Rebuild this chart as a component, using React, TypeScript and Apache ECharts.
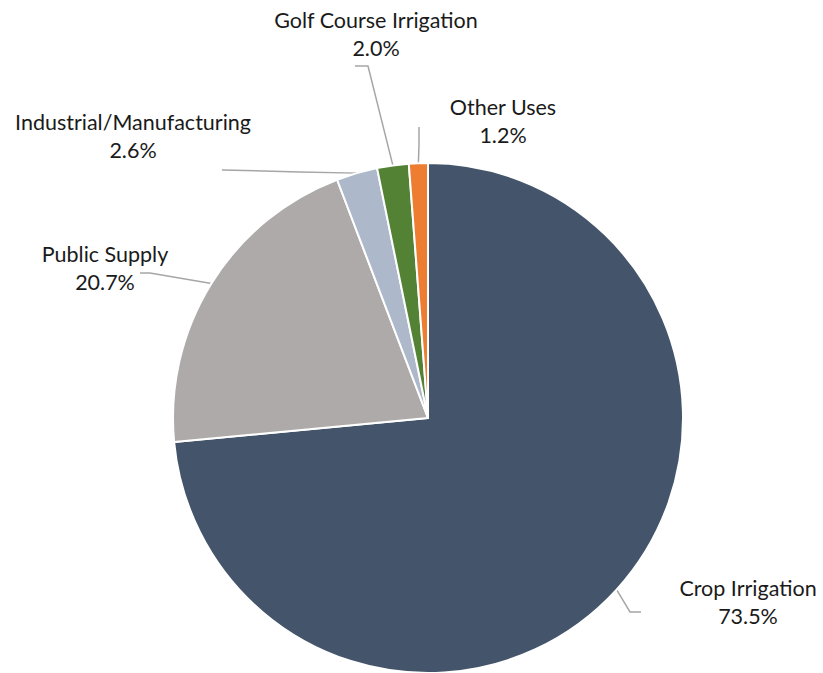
import React, { useEffect, useRef } from "react";
import * as echarts from "echarts";

const categories = ["Crop Irrigation", "Public Supply", "Industrial/Manufacturing", "Golf Course Irrigation", "Other Uses"];
const values = [73.5, 20.7, 2.6, 2.0, 1.2];
const colors = ["#44546A", "#AEAAAA", "#ADB9CA", "#548235", "#ED7D31"];

// label block centres and leader-line elbow/end points (annotation layout)
const labelCenters: [number, number][] = [
  [748, 602],
  [105, 268],
  [133, 136],
  [376, 34],
  [503, 121],
];
const leaderPoints: [number, number][][] = [
  [[630, 612], [641, 612]],
  [[150, 273], [140, 273]],
  [[300, 172], [222, 170]],
  [[368, 66], [355, 66]],
  [[419, 145], [419, 127]],
];

export default function App() {
  const ref = useRef<HTMLDivElement>(null);
  useEffect(() => {
    if (!ref.current) return;
    const chart = echarts.init(ref.current, null, { renderer: "svg" });
    chart.setOption({
      animation: false,
      backgroundColor: "#ffffff",
      series: [
        {
          type: "pie",
          center: [428, 418],
          radius: 255,
          startAngle: 90,
          clockwise: true,
          avoidLabelOverlap: false,
          data: categories.map((c, i) => ({ name: c, value: values[i], itemStyle: { color: colors[i] } })),
          itemStyle: { borderColor: "#ffffff", borderWidth: 2 },
          label: {
            show: true,
            position: "outside",
            formatter: (p: any) => `${p.name}\n${Number(p.value).toFixed(1)}%`,
            fontFamily: "Lato, 'Open Sans', sans-serif",
            fontSize: 21.5,
            lineHeight: 28,
            color: "#1a1a1a",
          },
          labelLine: {
            show: true,
            lineStyle: { color: "#A6A6A6", width: 1.5 },
          },
          labelLayout: (params: any) => {
            const i = params.dataIndex;
            const start = params.labelLinePoints ? params.labelLinePoints[0] : null;
            const res: any = {
              x: labelCenters[i][0],
              y: labelCenters[i][1],
              align: "center",
              verticalAlign: "middle",
            };
            if (start) {
              res.labelLinePoints = [start, leaderPoints[i][0], leaderPoints[i][1]];
            }
            return res;
          },
        },
      ],
    });
    return () => chart.dispose();
  }, []);
  return (
    <div
      ref={ref}
      style={{ position: "fixed", left: 0, top: 0, width: 823, height: 673, background: "#fff" }}
    />
  );
}
